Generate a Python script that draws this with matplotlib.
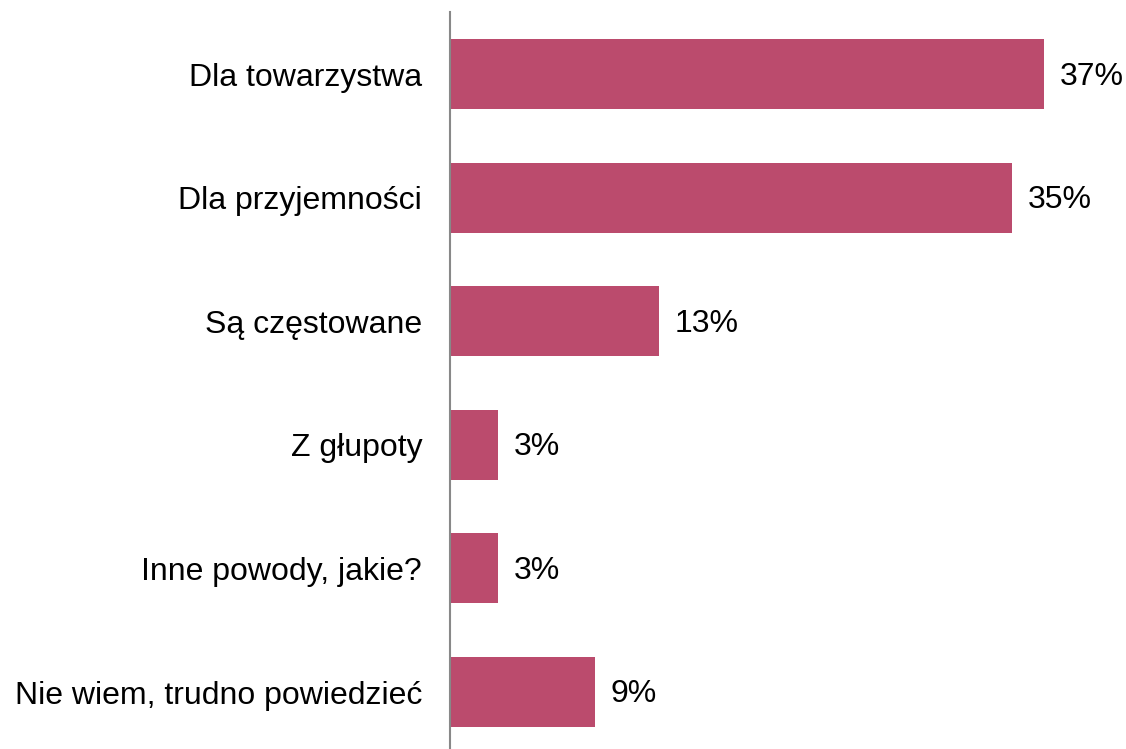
import matplotlib.pyplot as plt

# Reasons (Polish survey), values in percent
categories = ['Dla towarzystwa', 'Dla przyjemności', 'Są częstowane',
              'Z głupoty', 'Inne powody, jakie?', 'Nie wiem, trudno powiedzieć']
values = [37, 35, 13, 3, 3, 9]

plt.rcParams['font.family'] = ['Liberation Sans', 'DejaVu Sans']

fig = plt.figure(figsize=(11.26, 7.49), dpi=100)
ax = fig.add_axes([450 / 1126, 0, 676 / 1126, 737 / 749])

pos = list(range(len(categories)))
ax.barh(pos, values, height=0.566, color='#BB4B6D')

# value labels to the right of bars
for y, v in zip(pos, values):
    ax.text(v + 1.0, y + 0.02, f'{v}%', va='center', ha='left', fontsize=23)

ax.set_xlim(0, 42.1)
ax.set_ylim(5.461, -0.502)
ax.set_yticks(pos)
ax.set_yticklabels(categories, fontsize=23)
ax.tick_params(axis='y', length=0, pad=20)
ax.set_xticks([])

for side in ['top', 'right', 'bottom']:
    ax.spines[side].set_visible(False)
ax.spines['left'].set_color('#888888')
ax.spines['left'].set_linewidth(1.5)

fig.savefig('out.png', dpi=100)
